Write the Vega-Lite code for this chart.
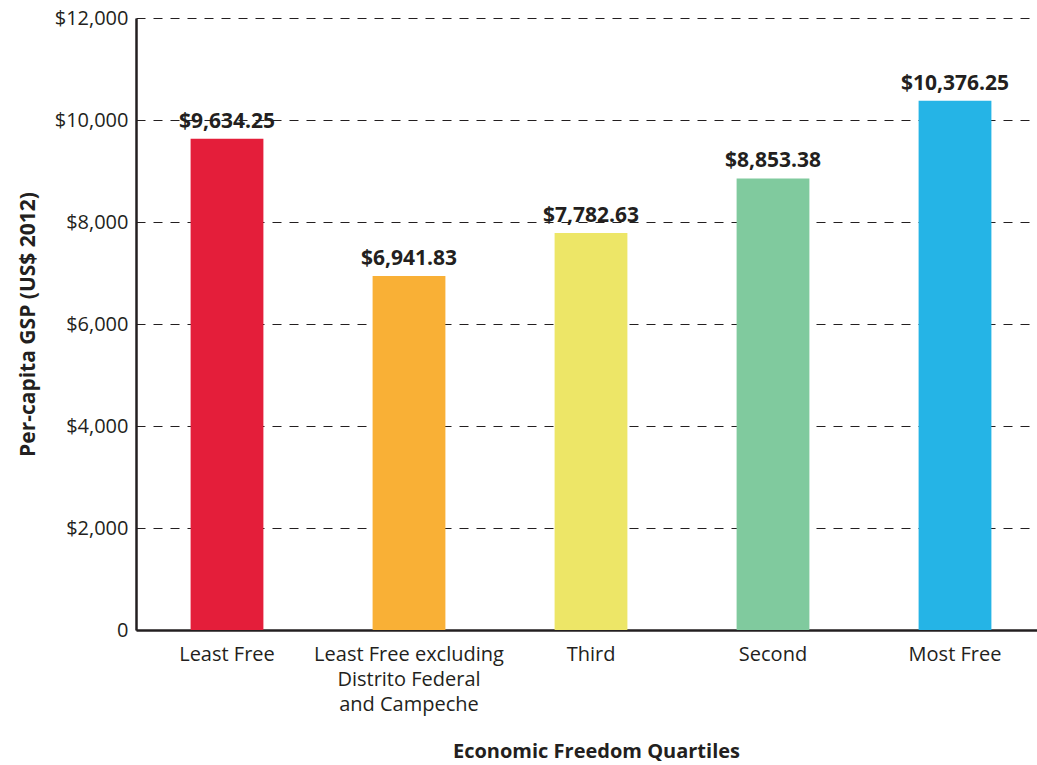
{
  "$schema": "https://vega.github.io/schema/vega-lite/v6.json",
  "width": 900,
  "height": 612,
  "autosize": {"type": "none"},
  "padding": {"left": 136, "top": 18, "right": 1, "bottom": 135},
  "background": "white",
  "config": {
    "view": {"stroke": null},
    "font": "Open Sans"
  },
  "data": {
    "values": [
      {"quartile": "Least Free", "gsp": 9634.25},
      {"quartile": "Least Free excluding Distrito Federal and Campeche", "gsp": 6941.83},
      {"quartile": "Third", "gsp": 7782.63},
      {"quartile": "Second", "gsp": 8853.38},
      {"quartile": "Most Free", "gsp": 10376.25}
    ]
  },
  "encoding": {
    "x": {
      "field": "quartile",
      "type": "nominal",
      "sort": null,
      "scale": {"paddingInner": 0.6, "paddingOuter": 0.3, "range": [0, 910]},
      "axis": {
        "title": "Economic Freedom Quartiles",
        "titleFontSize": 20,
        "titleFontWeight": "bold",
        "titleColor": "#231f20",
        "titleX": 460,
        "titleY": 121,
        "titleBaseline": "middle",
        "labelAngle": 0,
        "labelFontSize": 20,
        "labelColor": "#231f20",
        "labelPadding": 14,
        "labelLineHeight": 25,
        "labelLimit": 400,
        "labelExpr": "datum.label == 'Least Free excluding Distrito Federal and Campeche' ? ['Least Free excluding', 'Distrito Federal', 'and Campeche'] : datum.label",
        "ticks": false,
        "domainColor": "#231f20",
        "domainWidth": 2.5
      }
    },
    "y": {
      "field": "gsp",
      "type": "quantitative",
      "scale": {"domain": [0, 12000]},
      "axis": {
        "title": "Per-capita GSP (US$ 2012)",
        "titleFontSize": 21,
        "titleFontWeight": "bold",
        "titleColor": "#231f20",
        "titlePadding": 16,
        "values": [0, 2000, 4000, 6000, 8000, 10000, 12000],
        "labelExpr": "datum.value == 0 ? '0' : format(datum.value, '$,')",
        "labelFontSize": 20,
        "labelColor": "#231f20",
        "labelPadding": 8,
        "ticks": false,
        "domainColor": "#231f20",
        "domainWidth": 2.5,
        "grid": true,
        "gridColor": "#231f20",
        "gridDash": [9, 8],
        "gridWidth": 1.2
      }
    }
  },
  "layer": [
    {
      "mark": {"type": "bar"},
      "encoding": {
        "color": {
          "field": "quartile",
          "type": "nominal",
          "sort": null,
          "legend": null,
          "scale": {
            "domain": ["Least Free", "Least Free excluding Distrito Federal and Campeche", "Third", "Second", "Most Free"],
            "range": ["#E41E3A", "#F9B036", "#EDE667", "#80CA9E", "#25B4E6"]
          }
        }
      }
    },
    {
      "mark": {"type": "text", "baseline": "bottom", "dy": -7, "fontSize": 21, "fontWeight": "bold", "color": "#231f20"},
      "encoding": {
        "text": {"field": "gsp", "type": "quantitative", "format": "$,.2f"}
      }
    }
  ]
}
